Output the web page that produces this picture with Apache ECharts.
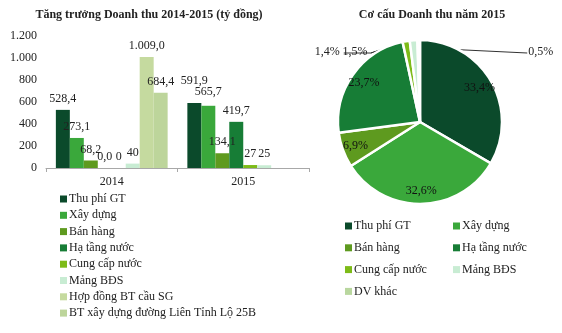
<!DOCTYPE html>
<html>
<head>
<meta charset="utf-8">
<script src="https://cdn.jsdelivr.net/npm/echarts@6/dist/echarts.min.js"></script>
<style>
html,body{margin:0;padding:0;background:#fff;}
#c{width:562px;height:333px;}
</style>
</head>
<body>
<div id="c"></div>
<script>
// ---- Data ----
const categories = ['2014', '2015'];
const barNames = ['Thu phí GT', 'Xây dựng', 'Bán hàng', 'Hạ tầng nước', 'Cung cấp nước', 'Mảng BĐS', 'Hợp đồng BT cầu SG', 'BT xây dựng đường Liên Tỉnh Lộ 25B'];
const thuPhiGT = [528.4, 591.9];
const xayDung = [273.1, 565.7];
const banHang = [68.2, 134.1];
const haTangNuoc = [0.0, 419.7];
const cungCapNuoc = [0, 27];
const mangBDS = [40, 25];
const btCauSG = [1009.0, null];
const bt25B = [684.4, null];
const labelDecimals = [1, 1, 1, 1, 0, 0, 1, 1];
const yTicks = [0, 200, 400, 600, 800, 1000, 1200];

const pieNames = ['Thu phí GT', 'Xây dựng', 'Bán hàng', 'Hạ tầng nước', 'Cung cấp nước', 'Mảng BĐS', 'DV khác'];
const pieValues = [33.4, 32.6, 6.9, 23.7, 1.4, 1.5, 0.5];

// ---- Styles ----
const colors = {
  'Thu phí GT': '#0b4a2b',
  'Xây dựng': '#3aa83b',
  'Bán hàng': '#5e9a1f',
  'Hạ tầng nước': '#177d36',
  'Cung cấp nước': '#7dbb18',
  'Mảng BĐS': '#c8ecd3',
  'Hợp đồng BT cầu SG': '#c5da9f',
  'BT xây dựng đường Liên Tỉnh Lộ 25B': '#bdd59b',
  'DV khác': '#b9d79f'
};
// extra vertical lift (px) for a few bar labels that sit higher in the original
const labelLift = { 'Thu phí GT|2015': 11, 'Xây dựng|2015': 3 };
const FONT = 'Liberation Serif';
const PIE_C = [420, 122];
const PIE_R = 82;

function fmt(v, d) {
  const s = Number(v).toFixed(d);
  const parts = s.split('.');
  parts[0] = parts[0].replace(/\B(?=(\d{3})+(?!\d))/g, '.');
  return parts.length > 1 ? parts[0] + ',' + parts[1] : parts[0];
}

const barData = [thuPhiGT, xayDung, banHang, haTangNuoc, cungCapNuoc, mangBDS, btCauSG, bt25B];

const barSeries = barNames.map((name, i) => ({
  name: name,
  type: 'bar',
  data: barData[i].map((v, j) => {
    const lift = labelLift[name + '|' + categories[j]];
    return lift ? { value: v, label: { offset: [0, -lift] } } : v;
  }),
  barGap: '0%',
  barCategoryGap: '15%',
  itemStyle: { color: colors[name] },
  label: {
    show: true,
    position: 'top',
    distance: 5,
    fontFamily: FONT,
    fontSize: 12,
    color: '#222',
    formatter: p => fmt(p.value, labelDecimals[i])
  }
}));

const smallIdx = pieValues.map((v, i) => v < 2 ? i : -1).filter(i => i >= 0);

const mainPieData = pieNames.map((n, i) => ({
  name: n,
  value: pieValues[i],
  itemStyle: { color: colors[n] },
  label: { show: pieValues[i] < 2 },
  labelLine: { show: pieValues[i] < 2 }
}));

const overlayData = pieNames.map((n, i) => ({
  name: n,
  value: pieValues[i],
  label: { show: pieValues[i] >= 2 }
}));

const chart = echarts.init(document.getElementById('c'), null, { renderer: 'canvas' });

const legendCommon = {
  orient: 'vertical',
  itemWidth: 7, itemHeight: 7,
  icon: 'rect',
  padding: 0,
  itemStyle: { borderWidth: 0 },
  textStyle: { fontFamily: FONT, fontSize: 12, color: '#222', padding: [0, 0, 0, -3] }
};

const option = {
  animation: false,
  backgroundColor: '#fff',
  textStyle: { fontFamily: FONT },
  title: [
    {
      text: 'Tăng trưởng Doanh thu 2014-2015 (tỷ đồng)',
      left: 144, top: 4, textAlign: 'center',
      textStyle: { fontFamily: FONT, fontSize: 12, fontWeight: 'bold', color: '#222' }
    },
    {
      text: 'Cơ cấu Doanh thu năm 2015',
      left: 427, top: 4, textAlign: 'center',
      textStyle: { fontFamily: FONT, fontSize: 12, fontWeight: 'bold', color: '#222' }
    }
  ],
  legend: [
    Object.assign({}, legendCommon, {
      data: barNames, left: 60, top: 193, itemGap: 4.3
    }),
    Object.assign({}, legendCommon, {
      data: ['Thu phí GT', 'Bán hàng', 'Cung cấp nước', 'DV khác'], left: 345, top: 220, itemGap: 9.8
    }),
    Object.assign({}, legendCommon, {
      data: ['Xây dựng', 'Hạ tầng nước', 'Mảng BĐS'], left: 453, top: 220, itemGap: 9.8
    })
  ],
  grid: { left: 46, right: 253, top: 36, bottom: 165, containLabel: false },
  xAxis: {
    type: 'category',
    data: categories,
    axisLine: { lineStyle: { color: '#a8a8a8', width: 1 } },
    axisTick: { show: true, length: 4, lineStyle: { color: '#a8a8a8' } },
    axisLabel: { fontFamily: FONT, fontSize: 12, color: '#222', margin: 8 }
  },
  yAxis: {
    type: 'value',
    min: yTicks[0],
    max: yTicks[yTicks.length - 1],
    interval: yTicks[1] - yTicks[0],
    splitLine: { show: false },
    axisLine: { show: false },
    axisTick: { show: false },
    axisLabel: { fontFamily: FONT, fontSize: 12, color: '#222', margin: 9, formatter: v => fmt(v, 0) }
  },
  series: barSeries.concat([
    {
      name: 'pieMain',
      type: 'pie',
      center: PIE_C,
      radius: PIE_R,
      startAngle: 90,
      clockwise: true,
      avoidLabelOverlap: false,
      itemStyle: { borderColor: '#fff', borderWidth: 2.5 },
      data: mainPieData,
      label: {
        position: 'outside',
        fontFamily: FONT, fontSize: 12, color: '#222',
        formatter: p => fmt(p.value, 1) + '%'
      },
      labelLine: { lineStyle: { color: '#333', width: 1 }, length: 10, length2: 10 },
      labelLayout: function (params) {
        const i = params.dataIndex;
        if (smallIdx.indexOf(i) < 0 || !params.labelLinePoints) return {};
        const s = params.labelLinePoints[0];
        const ly = PIE_C[1] - PIE_R + 12;
        if (pieNames[i] === 'DV khác') {
          const x = PIE_C[0] + PIE_R * 1.32;
          return { x: x, y: ly, align: 'left', verticalAlign: 'middle',
                   labelLinePoints: [s, [PIE_C[0] + PIE_R * 0.3, ly - 3], [x - 1, ly + 1]] };
        }
        const joint = [PIE_C[0] - PIE_R * 0.6, ly + 1];
        if (pieNames[i] === 'Mảng BĐS') {
          const x = PIE_C[0] - PIE_R * 0.64;
          return { x: x, y: ly, align: 'right', verticalAlign: 'middle',
                   labelLinePoints: [s, joint, joint] };
        }
        const x = PIE_C[0] - PIE_R * 0.98;
        return { x: x, y: ly, align: 'right', verticalAlign: 'middle',
                 labelLinePoints: [s, joint, [PIE_C[0] - PIE_R * 0.93, ly + 1]] };
      }
    },
    {
      name: 'pieLabels',
      type: 'pie',
      center: PIE_C,
      radius: [0, PIE_R * 1.6],
      startAngle: 90,
      clockwise: true,
      silent: true,
      legendHoverLink: false,
      itemStyle: { color: 'rgba(0,0,0,0)', borderWidth: 0 },
      data: overlayData,
      label: {
        position: 'inside',
        fontFamily: FONT, fontSize: 12, color: '#111',
        formatter: p => fmt(p.value, 1) + '%'
      },
      labelLine: { show: false }
    }
  ])
};
chart.setOption(option);
</script>
</body>
</html>
